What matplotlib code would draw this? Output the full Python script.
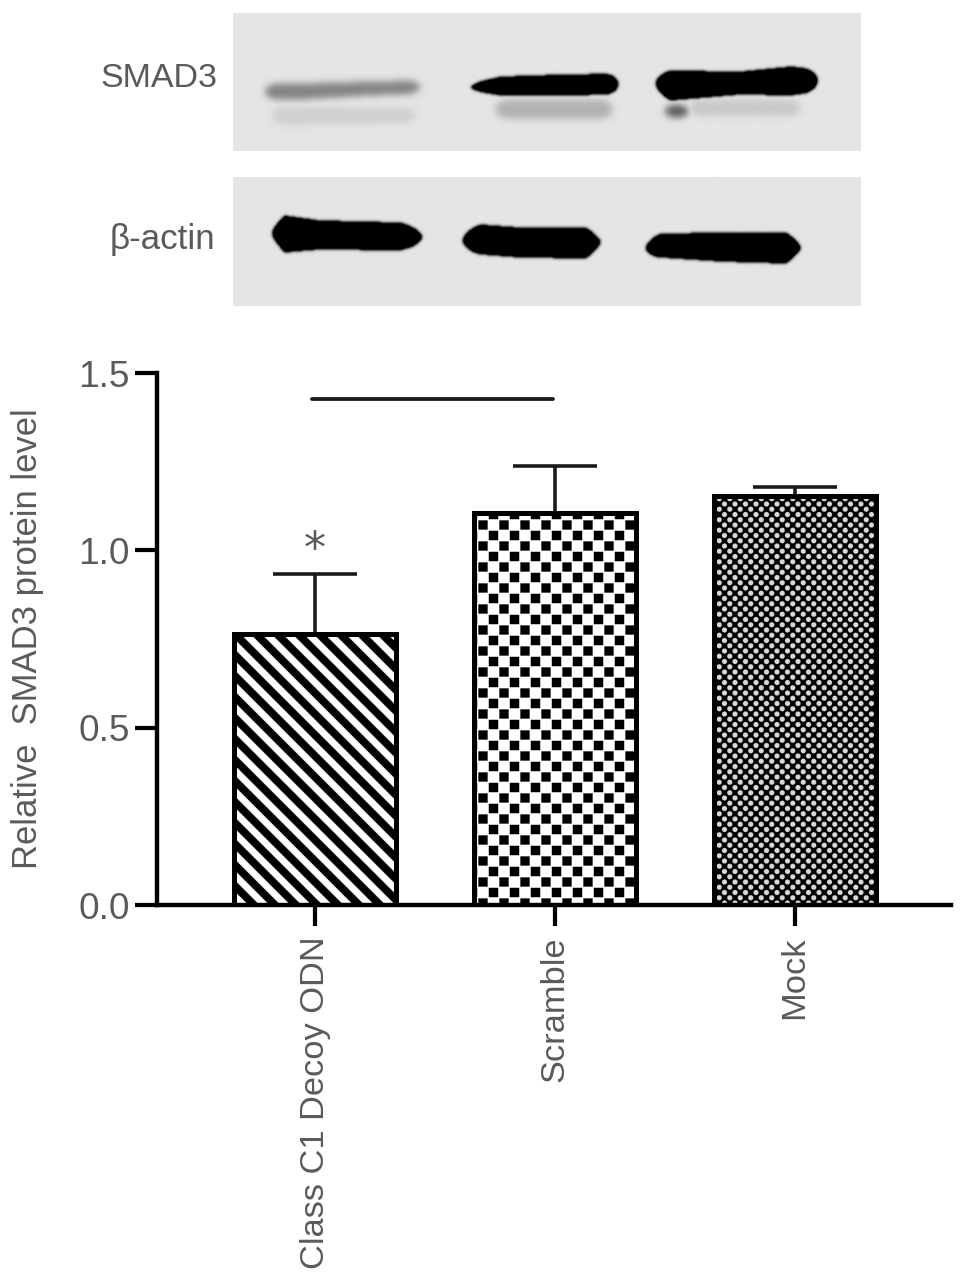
import numpy as np
import matplotlib
matplotlib.use("Agg")
import matplotlib.pyplot as plt
import matplotlib.hatch as mhatch
from matplotlib.path import Path

# ---------- data ----------
categories = ["Class C1 Decoy ODN", "Scramble", "Mock"]
means = [0.764, 1.105, 1.153]
errors = [0.168, 0.133, 0.026]
y_ticks = [0.0, 0.5, 1.0, 1.5]
y_label = "Relative  SMAD3 protein level"
bracket_y = 1.427
bracket_x = [-0.0125, 0.992]
star_y = 1.0
blot_labels = ["SMAD3", "\u03b2-actin"]

# blot bands (pixel coordinates of the picture): xs, top edge, bottom edge, darkness
smad3_bands = [
    ([265, 300, 370, 420], [84, 84, 82, 81], [100, 100, 96, 94], 0.42),
    ([272, 415], [107, 108], [125, 123], 0.09),
    ([470, 500, 560, 618], [84, 77, 75, 74], [91, 96, 96, 95], 1.0),
    ([495, 612], [100, 100], [119, 119], 0.22),
    ([655, 670, 740, 790, 817], [74, 71, 72, 67, 70], [94, 101, 95, 96, 92], 1.0),
    ([664, 688], [105, 105], [118, 118], 0.6),
    ([688, 800], [100, 100], [116, 116], 0.12),
]
actin_bands = [
    ([272, 285, 320, 400, 422], [224, 216, 221, 223, 230], [244, 253, 250, 251, 245], 1.0),
    ([462, 480, 520, 585, 600], [232, 225, 228, 228, 235], [250, 255, 258, 259, 250], 1.0),
    ([645, 660, 720, 785, 800], [240, 234, 233, 233, 241], [257, 258, 262, 264, 255], 1.0),
]

# ---------- styling ----------
DPI = 105
W, H = 969, 1285
TEXT = "#5a5a5a"
pt = 72 / DPI


def tile_hatch(char, polys):
    verts = np.concatenate([np.vstack([p, p[:1]]) for p in polys])
    codes = np.concatenate([[Path.MOVETO] + [Path.LINETO] * (len(p) - 1) + [Path.CLOSEPOLY] for p in polys])

    class TileHatch(mhatch.HatchPatternBase):
        def __init__(self, hatch, density):
            self.num_vertices = len(verts) if char in hatch else 0

        def set_vertices_and_codes(self, vertices, out_codes):
            vertices[:] = verts
            out_codes[:] = codes
    return TileHatch


stripe_w = 0.052
stripes = [np.array([(0, c - stripe_w), (1, c - 1 - stripe_w), (1, c - 1 + stripe_w), (0, c + stripe_w)])
           for c in np.arange(0, 11) / 5]
s = 4.6 / DPI
squares = [np.array([(i / 10 - s, j / 10 - s), (i / 10 + s, j / 10 - s), (i / 10 + s, j / 10 + s), (i / 10 - s, j / 10 + s)])
           for i in range(11) for j in range(11) if (i + j) % 2 == 0]
r = 2.7 / DPI
theta = -np.arange(12) / 12 * 2 * np.pi      # clockwise: holes in the sheet
holes = [np.column_stack([i / 20 + r * np.cos(theta), j / 20 + r * np.sin(theta)])
         for i in range(21) for j in range(21) if (i + j) % 2 == 0]
sheet = np.array([(-.1, -.1), (1.1, -.1), (1.1, 1.1), (-.1, 1.1)])
mhatch._hatch_types[:] = [tile_hatch("\\", stripes), tile_hatch("o", squares),
                          tile_hatch("O", [sheet] + holes)]
plt.rcParams["hatch.linewidth"] = 0.1
plt.rcParams["font.family"] = ["Liberation Sans", "DejaVu Sans"]

fig = plt.figure(figsize=((W + 0.01) / DPI, (H + 0.01) / DPI), dpi=DPI)


def px_axes(x0, y0, x1, y1, **kw):
    return fig.add_axes([x0 / W, 1 - y1 / H, (x1 - x0) / W, (y1 - y0) / H], **kw)


# ---------- blots ----------
def smooth(img, sigma):
    k = np.exp(-0.5 * (np.arange(-8, 9) / sigma) ** 2)
    k /= k.sum()
    pad = np.pad(img, 8, mode="edge")
    pad = np.apply_along_axis(lambda v: np.convolve(v, k, mode="same"), 0, pad)
    pad = np.apply_along_axis(lambda v: np.convolve(v, k, mode="same"), 1, pad)
    return pad[8:-8, 8:-8]


def blot(x0, y0, x1, y1, bands):
    yy, xx = np.mgrid[y0:y1, x0:x1] + 0.5
    absorb = np.zeros(yy.shape)
    for xs, top, bot, dark in bands:
        t = np.interp(xx, xs, top)
        b = np.interp(xx, xs, bot)
        c, half = (t + b) / 2, (b - t) / 2
        R = 14.0
        d = np.minimum(xx - xs[0], xs[-1] - xx)
        round_end = np.sqrt(np.clip(1 - (np.clip(R - d, 0, R) / R) ** 2, 0, 1))
        half = half * round_end
        m = (np.abs(yy - c) < half) & (d > 0)
        m = smooth(m.astype(float), 1.3 if dark > 0.9 else 3.5)
        absorb = np.maximum(absorb, dark * m)
    # a dense band reads as solid black: steepen it, leave the faint ones
    absorb = np.where(absorb > 0.62, np.clip((absorb - 0.62) * 2.6 + 0.62, 0, 1), absorb)
    img = 0.895 * (1 - absorb)
    ax = px_axes(x0, y0, x1, y1)
    ax.imshow(img, cmap="gray", vmin=0, vmax=1, aspect="auto", interpolation="bilinear")
    ax.axis("off")


blot(233, 13, 860, 151, smad3_bands)
blot(233, 177, 860, 306, actin_bands)
fig.text(217 / W, 1 - 78 / H, blot_labels[0], ha="right", va="center", color=TEXT, fontsize=34 * pt)
fig.text(215 / W, 1 - 239 / H, blot_labels[1], ha="right", va="center", color=TEXT, fontsize=35 * pt)

# ---------- bar chart ----------
ax = px_axes(157, 373, 951, 905)
x = np.arange(len(categories))
bars = ax.bar(x, means, width=0.672, facecolor="white", edgecolor="black", linewidth=5 * pt, zorder=2,
              yerr=[np.zeros(len(errors)), errors],
              error_kw=dict(ecolor="#1a1a1a", elinewidth=3.6 * pt, capsize=42 * pt, capthick=3.6 * pt, zorder=1))
for bar, h in zip(bars, ["\\", "o", "O"]):
    bar.set_hatch(h)
bars[2].set_facecolor("#d8d8d8")

ax.set_xlim(-158 / 240, 636 / 240)
ax.set_ylim(0, 1.5)
ax.set_yticks(y_ticks, [f"{v:.1f}" for v in y_ticks])
ax.set_xticks(x, categories, rotation=90)
ax.spines[["top", "right"]].set_visible(False)
ax.spines[["left", "bottom"]].set_linewidth(4.4 * pt)
ax.tick_params(axis="y", length=22 * pt, width=4.2 * pt, pad=5 * pt, labelsize=37 * pt, labelcolor=TEXT)
ax.tick_params(axis="x", length=21 * pt, width=4.2 * pt, pad=10 * pt, labelsize=34.4 * pt, labelcolor=TEXT)
ax.set_ylabel(y_label, fontsize=34.6 * pt, color=TEXT, va="bottom")
ax.yaxis.set_label_coords((44 - 157) / 794, 0.5)

ax.plot(bracket_x, [bracket_y, bracket_y], color="#1a1a1a", lw=3.8 * pt, solid_capstyle="round", clip_on=False)
ax.text(0, star_y, "*", ha="center", va="center", color=TEXT, fontsize=44 * pt, family="DejaVu Sans")

fig.savefig("out.png", dpi=DPI)
